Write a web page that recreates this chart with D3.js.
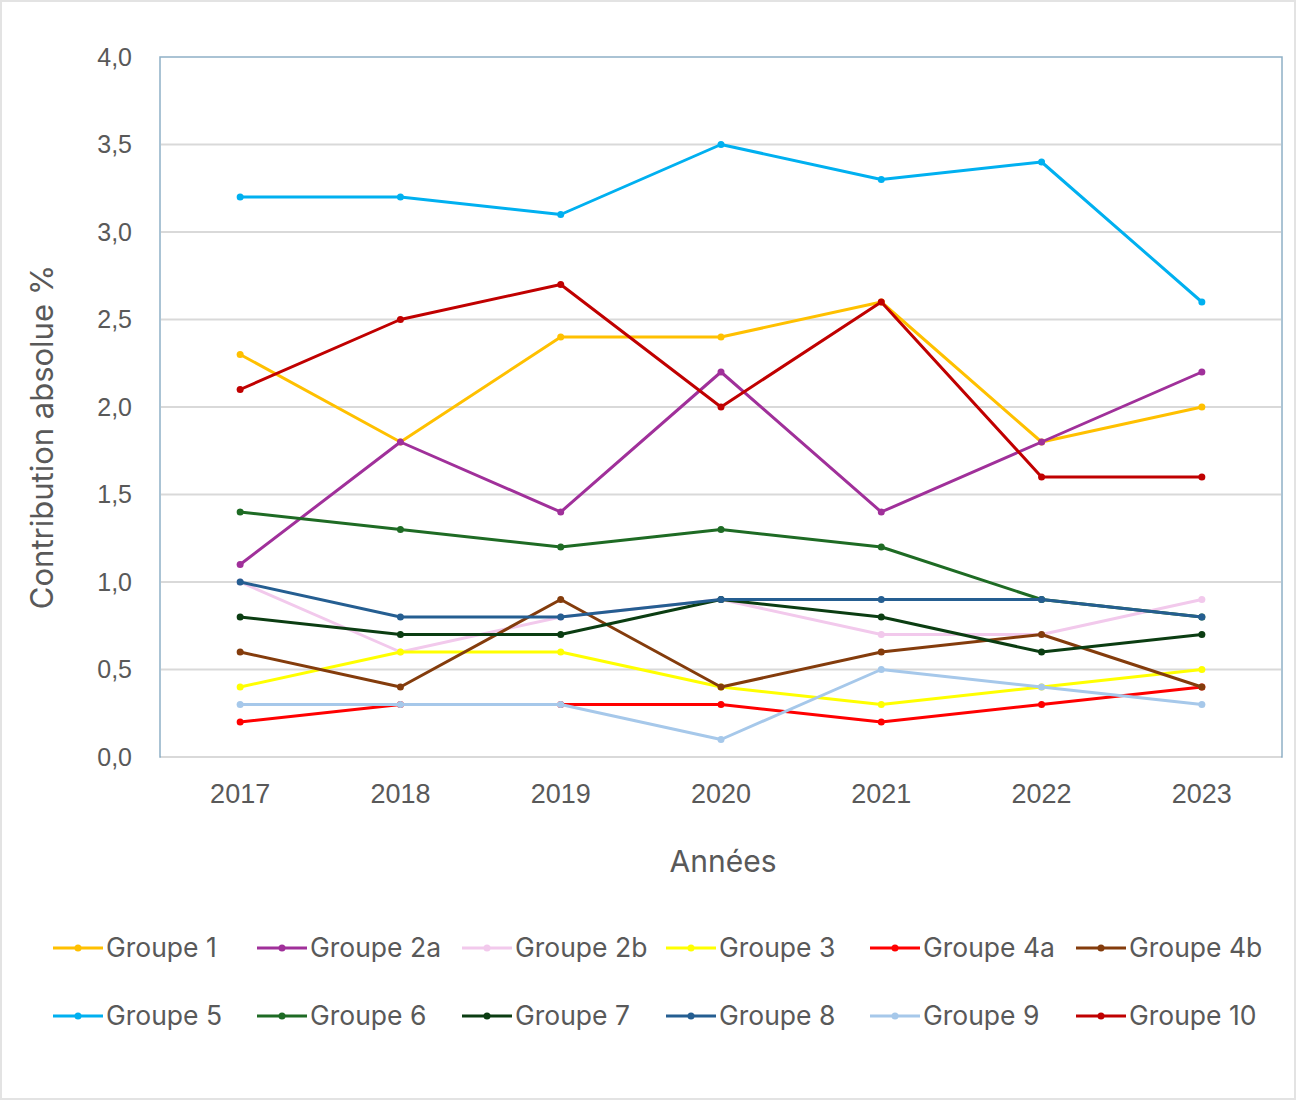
<!DOCTYPE html>
<html>
<head>
<meta charset="utf-8">
<script src="https://cdn.jsdelivr.net/npm/d3@7"></script>
<style>
    body { margin: 0; background: #ffffff; }
    svg { display: block; font-family: Inter, "Liberation Sans", Arial, sans-serif; }
</style>
</head>
<body>
<svg></svg>
<script>
// DATA
var years = ["2017", "2018", "2019", "2020", "2021", "2022", "2023"];
var yTicks = [0, 0.5, 1, 1.5, 2, 2.5, 3, 3.5, 4];

var groupe1 = [2.3, 1.8, 2.4, 2.4, 2.6, 1.8, 2.0];
var groupe2a = [1.1, 1.8, 1.4, 2.2, 1.4, 1.8, 2.2];
var groupe2b = [1.0, 0.6, 0.8, 0.9, 0.7, 0.7, 0.9];
var groupe3 = [0.4, 0.6, 0.6, 0.4, 0.3, 0.4, 0.5];
var groupe4a = [0.2, 0.3, 0.3, 0.3, 0.2, 0.3, 0.4];
var groupe4b = [0.6, 0.4, 0.9, 0.4, 0.6, 0.7, 0.4];
var groupe5 = [3.2, 3.2, 3.1, 3.5, 3.3, 3.4, 2.6];
var groupe6 = [1.4, 1.3, 1.2, 1.3, 1.2, 0.9, 0.8];
var groupe7 = [0.8, 0.7, 0.7, 0.9, 0.8, 0.6, 0.7];
var groupe8 = [1.0, 0.8, 0.8, 0.9, 0.9, 0.9, 0.8];
var groupe9 = [0.3, 0.3, 0.3, 0.1, 0.5, 0.4, 0.3];
var groupe10 = [2.1, 2.5, 2.7, 2.0, 2.6, 1.6, 1.6];

var names = ["Groupe 1", "Groupe 2a", "Groupe 2b", "Groupe 3", "Groupe 4a", "Groupe 4b",
    "Groupe 5", "Groupe 6", "Groupe 7", "Groupe 8", "Groupe 9", "Groupe 10"];
var colors = ["#FFC000", "#A0309A", "#F2C9EC", "#FFFF00", "#FF0000", "#843C0C",
    "#00B0F0", "#1E6B24", "#0B3D12", "#255E91", "#A6C8EA", "#C00000"];
var values = [groupe1, groupe2a, groupe2b, groupe3, groupe4a, groupe4b,
    groupe5, groupe6, groupe7, groupe8, groupe9, groupe10];


// MAIN
var width = 1298;
var height = 1100;

var svg = d3.select("svg")
    .attr("width", width)
    .attr("height", height);

// outer frame
svg.append("rect")
    .attr("x", 1)
    .attr("y", 1)
    .attr("width", width - 4)
    .attr("height", height - 2)
    .attr("fill", "#ffffff")
    .attr("stroke", "#e3e3e3")
    .attr("stroke-width", 2);

var plot = {left: 160, right: 1282, top: 57, bottom: 757};

var x = d3.scaleBand()
    .domain(years)
    .range([plot.left, plot.right]);

var y = d3.scaleLinear()
    .domain([0, 4])
    .range([plot.bottom, plot.top]);

// plot border
svg.append("rect")
    .attr("x", plot.left)
    .attr("y", plot.top)
    .attr("width", plot.right - plot.left)
    .attr("height", plot.bottom - plot.top)
    .attr("fill", "none")
    .attr("stroke", "#8fb0c6")
    .attr("stroke-width", 1.5);

// gridlines
svg.append("g")
    .selectAll("line")
    .data(yTicks.filter(function (d) { return d < 4; }))
    .enter().append("line")
    .attr("x1", plot.left + 1)
    .attr("x2", plot.right - 1)
    .attr("y1", function (d) { return y(d); })
    .attr("y2", function (d) { return y(d); })
    .attr("stroke", "#d9d9d9")
    .attr("stroke-width", 2);

// y axis labels
var yAxis = d3.axisLeft(y)
    .tickValues(yTicks)
    .tickSize(0)
    .tickPadding(28)
    .tickFormat(function (d) { return d3.format(".1f")(d).replace(".", ","); });

var gy = svg.append("g")
    .attr("transform", "translate(" + plot.left + ",0)")
    .call(yAxis);
gy.select(".domain").remove();
gy.selectAll("text")
    .attr("font-size", "25px")
    .attr("font-family", null)
    .attr("fill", "#595959");

// x axis labels
var xAxis = d3.axisBottom(x)
    .tickSize(0)
    .tickPadding(27);

var gx = svg.append("g")
    .attr("transform", "translate(0," + plot.bottom + ")")
    .call(xAxis);
gx.select(".domain").remove();
gx.selectAll("text")
    .attr("font-size", "27px")
    .attr("font-family", null)
    .attr("fill", "#595959");

// axis titles
svg.append("text")
    .attr("transform", "translate(53,437) rotate(-90)")
    .attr("text-anchor", "middle")
    .attr("font-size", "31px")
    .attr("fill", "#595959")
    .text("Contribution absolue %");

svg.append("text")
    .attr("x", 723)
    .attr("y", 872)
    .attr("text-anchor", "middle")
    .attr("font-size", "30px")
    .attr("fill", "#595959")
    .text("Années");

// series
var line = d3.line()
    .x(function (d, i) { return x(years[i]) + x.bandwidth() / 2; })
    .y(function (d) { return y(d); });

var series = svg.append("g")
    .selectAll("g")
    .data(values)
    .enter().append("g");

series.append("path")
    .attr("d", function (d) { return line(d); })
    .attr("fill", "none")
    .attr("stroke", function (d, i) { return colors[i]; })
    .attr("stroke-width", 3)
    .attr("stroke-linejoin", "round");

series.each(function (d, i) {
    d3.select(this).selectAll("circle")
        .data(d)
        .enter().append("circle")
        .attr("cx", function (v, j) { return x(years[j]) + x.bandwidth() / 2; })
        .attr("cy", function (v) { return y(v); })
        .attr("r", 3.5)
        .attr("fill", colors[i]);
});

// legend
var legendX = [53, 257, 462, 666, 870, 1076];
var legendY = [948, 1016];

var legend = svg.append("g")
    .selectAll("g")
    .data(names)
    .enter().append("g")
    .attr("transform", function (d, i) {
        return "translate(" + legendX[i % 6] + "," + legendY[Math.floor(i / 6)] + ")";
    });

legend.append("line")
    .attr("x1", 0)
    .attr("x2", 50)
    .attr("stroke", function (d, i) { return colors[i]; })
    .attr("stroke-width", 3);

legend.append("circle")
    .attr("cx", 25)
    .attr("r", 3.5)
    .attr("fill", function (d, i) { return colors[i]; });

legend.append("text")
    .attr("x", 53)
    .attr("dy", "0.35em")
    .attr("font-size", "26.5px")
    .attr("fill", "#595959")
    .text(function (d) { return d; });
</script>
</body>
</html>
